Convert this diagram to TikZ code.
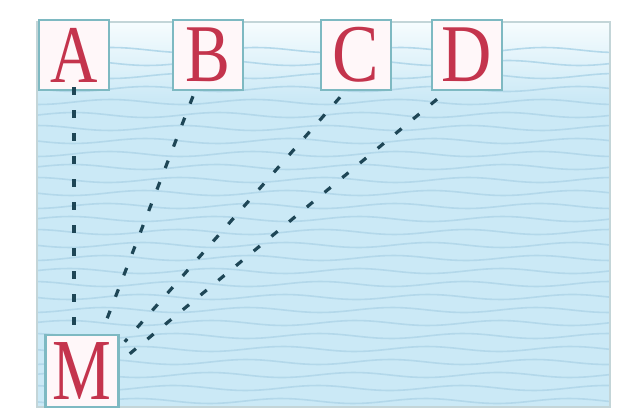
\documentclass[tikz,border=0pt]{standalone}
\usepackage{fontspec}
\setmainfont{Liberation Serif}
\usetikzlibrary{calc}
\definecolor{water}{HTML}{CBE9F6}
\definecolor{wavec}{HTML}{B3D8EA}
\definecolor{topc}{HTML}{F6FCFE}
\definecolor{framec}{HTML}{C3D5D8}
\definecolor{boxc}{HTML}{7EB9C2}
\definecolor{boxfill}{HTML}{FFF7F9}
\definecolor{letc}{HTML}{C4344D}
\definecolor{linec}{HTML}{1E4656}
\tikzset{
  lbl/.style={draw=boxc, line width=2.5pt, fill=boxfill, minimum width=70pt,
    minimum height=70pt, inner sep=0pt, text=letc, font=\fontsize{82}{82}\selectfont},
  link/.style={draw=linec, line width=3.2pt, dash pattern=on 8pt off 15pt},
  wave/.style={draw=wavec, line width=1.6pt},
}
\begin{document}
\begin{tikzpicture}[x=1pt,y=-1pt]
\useasboundingbox (0,0) rectangle (619,415);
% water
\fill[water] (37,22) rectangle (610,407);
\shade[top color=topc, bottom color=water] (37,22) rectangle (610,100);
\begin{scope}
  \clip (37,22) rectangle (610,407);
  \foreach \yy in {50,63,...,410} {
    \draw[wave] plot[domain=37:610, samples=70] (\x, {\yy + 2.5*sin(\x*2.5 + \yy*7)});
  }
\end{scope}
\draw[framec, line width=1.5pt] (37,22) rectangle (610,407);
% nodes
\node[lbl] (A) at (74,55) {\scalebox{0.8}[1]{A}};
\node[lbl] (B) at (208,55) {\scalebox{0.82}[1]{B}};
\node[lbl] (C) at (356,55) {\scalebox{0.85}[1]{C}};
\node[lbl] (D) at (467,55) {\scalebox{0.85}[1]{D}};
\node[lbl, minimum width=73pt, minimum height=72pt, font=\fontsize{87}{87}\selectfont] (M) at (82,371) {\scalebox{0.76}[1]{M}};
% connectors
\draw[link] ([yshift=4pt]A.south) -- (A.south |- M.north);
\draw[link] ([shift={(-15,5)}]B.south) -- ([shift={(20,-2)}]M.north);
\draw[link] ([shift={(-16,6)}]C.south) -- ([shift={(5,8)}]M.north east);
\draw[link] ([shift={(-30,8)}]D.south) -- ([shift={(10,20)}]M.north east);
\end{tikzpicture}
\end{document}
